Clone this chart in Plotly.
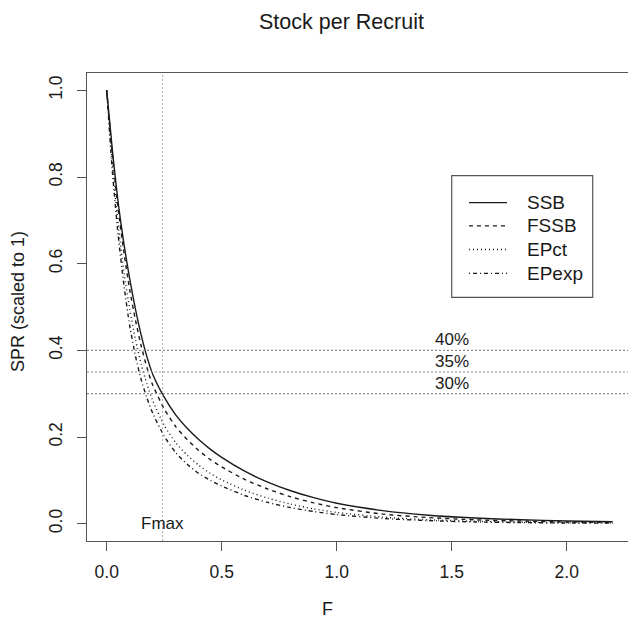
import plotly.graph_objects as go

# Fishing mortality grid and scaled spawning-potential-per-recruit curves
f_grid = [0, 0.025, 0.05, 0.075, 0.1, 0.125, 0.15, 0.175, 0.2, 0.25, 0.3, 0.35,
          0.4, 0.45, 0.5, 0.6, 0.7, 0.8, 0.9, 1.0, 1.2, 1.4, 1.6, 1.8, 2.0, 2.2]
spr_ssb = [1.0, 0.86, 0.74, 0.645, 0.565, 0.495, 0.435, 0.385, 0.345, 0.292, 0.251,
           0.22, 0.194, 0.172, 0.153, 0.121, 0.096, 0.076, 0.06, 0.047, 0.03,
           0.0195, 0.013, 0.009, 0.0063, 0.0045]
spr_fssb = [1.0, 0.85, 0.725, 0.625, 0.54, 0.47, 0.41, 0.36, 0.32, 0.265, 0.224,
            0.194, 0.169, 0.148, 0.131, 0.102, 0.08, 0.062, 0.048, 0.037, 0.022,
            0.014, 0.009, 0.006, 0.004, 0.003]
spr_epct = [1.0, 0.83, 0.69, 0.58, 0.495, 0.425, 0.368, 0.322, 0.284, 0.227, 0.187,
            0.158, 0.135, 0.116, 0.101, 0.077, 0.059, 0.045, 0.034, 0.026, 0.015,
            0.009, 0.0055, 0.0035, 0.0023, 0.0016]
spr_epexp = [1.0, 0.81, 0.665, 0.55, 0.457, 0.387, 0.332, 0.29, 0.255, 0.202, 0.164,
             0.137, 0.116, 0.1, 0.087, 0.065, 0.049, 0.037, 0.028, 0.021, 0.012,
             0.007, 0.004, 0.0025, 0.0016, 0.0011]

series_names = ["SSB", "FSSB", "EPct", "EPexp"]
series_values = [spr_ssb, spr_fssb, spr_epct, spr_epexp]

# Reference SPR levels and Fmax
ref_levels = [0.40, 0.35, 0.30]
ref_labels = ["40%", "35%", "30%"]
f_max = 0.243

x_ticks = [0.0, 0.5, 1.0, 1.5, 2.0]
y_ticks = [0.0, 0.2, 0.4, 0.6, 0.8, 1.0]

FONT = "Liberation Sans, Arial, sans-serif"
INK = "#1a1a1a"
dash_styles = ["solid", "4px,4px", "1px,3px", "1px,3px,4px,3px"]

W, H = 628, 628
ML, MR, MT, MB = 87, 0, 73, 87
PX_PER_F = 230.0
X0_PX = 106.7  # pixel of F = 0
plot_w = W - ML - MR
plot_h = H - MT - MB
x_lo = -(X0_PX - ML) / PX_PER_F
x_hi = x_lo + plot_w / PX_PER_F


def px_to_paper_x(px):
    return (px - ML) / plot_w


def px_to_paper_y(py):
    return (H - MB - py) / plot_h


fig = go.Figure()

for name, vals, dash in zip(series_names, series_values, dash_styles):
    fig.add_trace(go.Scatter(x=f_grid, y=vals, mode="lines", name=name,
                             line=dict(color=INK, width=1.4, dash=dash, shape="spline",
                                       smoothing=0.6),
                             showlegend=False))

shapes = []
annotations = []

# horizontal reference lines with their labels
for lvl, lab in zip(ref_levels, ref_labels):
    shapes.append(dict(type="line", xref="paper", x0=0, x1=1, yref="y", y0=lvl, y1=lvl,
                       line=dict(color="#8a8a8a", width=1.2, dash="2px,2px")))
    annotations.append(dict(x=1.5, y=lvl, xref="x", yref="y", text=lab, showarrow=False,
                            yanchor="bottom", yshift=-1,
                            font=dict(family=FONT, size=17, color=INK)))

# vertical Fmax line
shapes.append(dict(type="line", xref="x", x0=f_max, x1=f_max, yref="paper", y0=0, y1=1,
                   line=dict(color="#b0b0b0", width=1, dash="2px,2px")))
annotations.append(dict(x=f_max, y=0.0, xref="x", yref="y", text="Fmax", showarrow=False,
                        yanchor="middle", font=dict(family=FONT, size=17, color=INK)))

# legend box
shapes.append(dict(type="rect", xref="paper", yref="paper",
                   x0=px_to_paper_x(451.7), x1=px_to_paper_x(592.7),
                   y0=px_to_paper_y(297.3), y1=px_to_paper_y(175.7),
                   line=dict(color="#555555", width=1.2), fillcolor="white", layer="above"))
row_y = [202.7, 225.9, 249.5, 273.3]
for name, dash, ry in zip(series_names, dash_styles, row_y):
    shapes.append(dict(type="line", xref="paper", yref="paper",
                       x0=px_to_paper_x(469), x1=px_to_paper_x(507),
                       y0=px_to_paper_y(ry), y1=px_to_paper_y(ry),
                       line=dict(color=INK, width=1.3, dash=dash), layer="above"))
    annotations.append(dict(x=px_to_paper_x(525), y=px_to_paper_y(ry), xref="paper", yref="paper",
                            text=name, showarrow=False, xanchor="left", yanchor="middle",
                            font=dict(family=FONT, size=19, color=INK)))

# titles
annotations.append(dict(x=px_to_paper_x(341), y=px_to_paper_y(22), xref="paper", yref="paper",
                        text="Stock per Recruit", showarrow=False,
                        xanchor="center", yanchor="middle",
                        font=dict(family=FONT, size=21.5, color=INK)))
annotations.append(dict(x=px_to_paper_x(327), y=px_to_paper_y(609), xref="paper", yref="paper",
                        text="F", showarrow=False, xanchor="center", yanchor="middle",
                        font=dict(family=FONT, size=18, color=INK)))
annotations.append(dict(x=px_to_paper_x(18), y=px_to_paper_y(302), xref="paper", yref="paper",
                        text="SPR (scaled to 1)", textangle=-90, showarrow=False,
                        xanchor="center", yanchor="middle",
                        font=dict(family=FONT, size=18, color=INK)))

fig.update_layout(
    width=W, height=H,
    margin=dict(l=ML, r=MR, t=MT, b=MB),
    paper_bgcolor="white", plot_bgcolor="white",
    shapes=shapes, annotations=annotations,
    showlegend=False,
    xaxis=dict(range=[x_lo, x_hi], tickvals=x_ticks, ticktext=[f"{v:.1f}" for v in x_ticks],
               ticks="outside", ticklen=9, tickcolor="#555555", tickwidth=1,
               showline=True, mirror=True, linecolor="#555555", linewidth=1.2,
               showgrid=False, zeroline=False, ticklabelstandoff=6,
               tickfont=dict(family=FONT, size=17.5, color=INK)),
    yaxis=dict(range=[-0.04, 1.04], tickvals=y_ticks, ticktext=[f"{v:.1f}" for v in y_ticks],
               ticks="outside", ticklen=9, tickcolor="#555555", tickwidth=1,
               showline=True, mirror=False, linecolor="#555555", linewidth=1.2,
               showgrid=False, zeroline=False, tickangle=-90, ticklabelstandoff=8,
               tickfont=dict(family=FONT, size=17.5, color=INK)),
)

fig.write_html("out.html")
